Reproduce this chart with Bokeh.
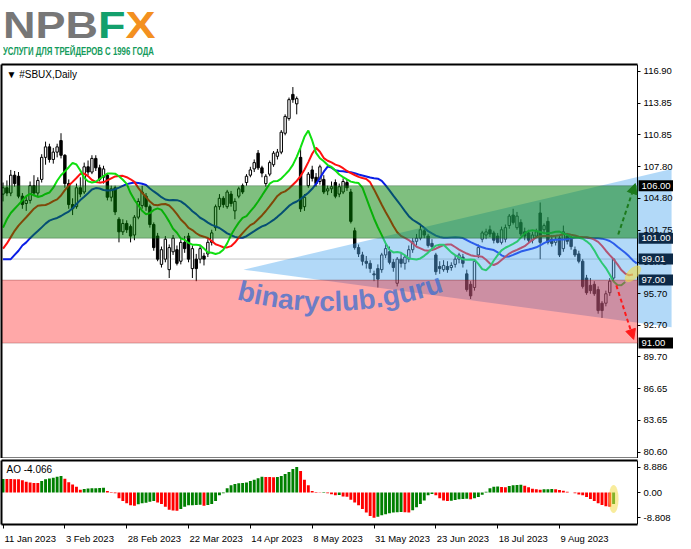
import math

from bokeh.core.properties import value
from bokeh.embed import file_html
from bokeh.layouts import column
from bokeh.models import (Arrow, BoxAnnotation, ColumnDataSource, Div, FixedTicker,
                          Label, NormalHead, NumeralTickFormatter, Range1d)
from bokeh.plotting import figure
from bokeh.resources import INLINE

# ---- data (SBUX daily, 11 Jan 2023 - 29 Aug 2023) ----
opens = [
    105.2, 105.8, 105.3, 107.0, 106.9, 105.0, 104.3, 104.6, 106.0, 105.3,
    106.6, 108.7, 109.7, 108.5, 109.2, 110.3, 108.9, 106.2, 104.2, 104.0,
    105.8, 105.4, 107.8, 107.3, 108.6, 107.7, 106.8, 107.0, 104.9, 105.8,
    102.8, 101.6, 102.4, 102.1, 101.3, 103.0, 104.1, 105.0, 104.0, 102.3,
    101.2, 98.5, 99.0, 98.0, 99.7, 99.9, 98.8, 100.6, 101.2, 98.1,
    99.0, 99.0, 99.3, 99.5, 100.6, 102.0, 104.0, 104.8, 104.0, 105.2,
    103.6, 105.0, 106.0, 106.3, 107.0, 107.6, 109.1, 107.7, 106.2, 107.1,
    108.0, 108.8, 109.2, 111.0, 112.4, 114.7, 113.8, 108.7, 104.0, 106.0,
    107.5, 106.8, 106.4, 106.6, 105.5, 105.7, 106.3, 105.2, 105.4, 106.3,
    105.4, 101.7, 100.1, 99.4, 98.8, 98.6, 97.6, 98.1, 98.0, 99.4,
    99.7, 98.7, 96.7, 99.0, 98.6, 99.0, 99.9, 100.7, 101.0, 101.7,
    101.2, 100.5, 99.4, 98.3, 98.0, 98.3, 98.2, 98.5, 99.0, 99.2,
    97.6, 96.6, 96.3, 99.4, 100.9, 101.3, 101.8, 101.5, 101.2, 100.6,
    100.9, 102.2, 103.2, 102.0, 102.5, 101.6, 101.5, 100.8, 101.2, 103.4,
    101.8, 102.6, 100.9, 100.6, 101.0, 100.0, 101.2, 100.9, 99.9, 99.5,
    98.8, 97.2, 96.5, 96.6, 96.1, 94.8, 94.8, 95.8, 97.2,
]
highs = [
    106.3, 106.5, 107.5, 107.4, 107.3, 105.3, 105.0, 106.4, 107.0, 106.8,
    109.0, 110.2, 110.0, 109.6, 110.0, 111.0, 109.0, 106.6, 104.8, 106.2,
    106.8, 108.2, 108.4, 108.9, 108.9, 108.0, 107.9, 107.2, 106.0, 106.0,
    103.0, 102.8, 102.7, 102.3, 103.2, 104.8, 106.0, 105.3, 104.2, 102.5,
    101.5, 100.2, 101.2, 100.4, 101.3, 100.3, 100.9, 101.2, 101.5, 100.3,
    99.5, 100.3, 99.6, 100.9, 101.8, 104.2, 105.2, 105.0, 105.6, 105.5,
    104.8, 105.9, 106.2, 107.1, 107.8, 108.5, 109.4, 107.9, 107.1, 108.4,
    109.3, 109.5, 111.3, 112.8, 114.4, 115.4, 114.5, 109.6, 105.2, 107.3,
    107.9, 107.2, 108.0, 107.0, 106.0, 106.4, 106.6, 106.2, 106.7, 106.6,
    105.7, 102.0, 100.4, 99.7, 99.3, 98.9, 97.9, 98.5, 99.6, 100.5,
    100.2, 99.0, 99.2, 99.6, 99.4, 100.3, 101.0, 101.4, 102.2, 101.9,
    101.4, 100.9, 99.6, 98.8, 98.9, 98.8, 98.7, 99.3, 99.6, 99.5,
    98.0, 96.9, 99.0, 100.4, 101.7, 101.9, 102.2, 101.7, 101.5, 102.1,
    102.3, 103.3, 103.8, 103.5, 102.8, 102.0, 101.8, 101.6, 101.9, 104.4,
    102.4, 103.0, 101.3, 101.2, 101.3, 102.2, 101.5, 101.2, 100.2, 99.8,
    99.0, 97.5, 97.2, 96.9, 96.4, 95.0, 96.0, 97.2, 99.1,
]
lows = [
    104.5, 105.0, 105.0, 105.9, 104.8, 103.8, 103.6, 104.3, 105.0, 105.0,
    106.3, 108.0, 108.2, 108.1, 108.7, 108.6, 105.8, 103.8, 103.2, 103.8,
    104.9, 105.2, 107.0, 107.1, 107.4, 106.4, 106.2, 104.6, 104.5, 103.2,
    100.6, 101.3, 101.5, 100.6, 100.8, 102.8, 103.8, 103.6, 102.0, 99.8,
    98.8, 98.2, 98.7, 97.2, 99.4, 98.4, 98.5, 99.6, 98.7, 97.2,
    96.9, 98.6, 98.4, 99.2, 100.3, 101.7, 103.7, 103.9, 103.8, 104.0,
    102.8, 104.8, 105.2, 106.0, 106.8, 107.3, 107.5, 106.8, 105.9, 106.9,
    107.8, 108.5, 109.0, 110.8, 112.2, 113.9, 112.8, 103.5, 103.6, 105.8,
    106.4, 105.9, 106.1, 105.2, 105.1, 105.3, 104.8, 104.9, 105.2, 105.5,
    102.4, 99.9, 99.2, 98.4, 98.1, 97.7, 96.9, 96.3, 97.7, 99.1,
    98.5, 97.8, 96.4, 98.2, 98.0, 98.7, 99.6, 100.3, 100.8, 101.0,
    100.1, 99.8, 97.5, 97.6, 97.8, 97.7, 97.9, 98.2, 98.6, 98.2,
    95.9, 95.2, 96.0, 99.1, 100.6, 100.9, 101.1, 100.5, 100.5, 100.4,
    100.6, 101.9, 102.3, 101.8, 101.2, 100.8, 100.6, 100.5, 101.0, 99.0,
    101.5, 100.4, 100.2, 100.3, 99.2, 99.7, 100.4, 99.9, 99.2, 98.6,
    96.2, 95.6, 95.7, 95.5, 93.8, 93.4, 94.5, 95.5, 97.0,
]
closes = [
    105.8, 105.3, 107.0, 106.2, 105.0, 104.2, 104.6, 106.0, 105.3, 106.5,
    108.7, 109.7, 108.5, 109.2, 109.7, 108.9, 106.2, 104.2, 103.8, 105.8,
    105.2, 107.8, 107.3, 108.6, 107.7, 106.6, 107.6, 104.9, 105.7, 103.5,
    101.6, 102.4, 101.8, 101.2, 103.0, 104.5, 105.4, 104.0, 102.3, 100.1,
    99.0, 99.9, 100.9, 100.1, 101.0, 98.6, 100.6, 100.0, 99.0, 100.0,
    98.1, 100.0, 99.0, 100.6, 101.5, 104.0, 104.8, 104.2, 105.4, 104.3,
    104.5, 105.7, 105.4, 106.9, 107.5, 108.2, 107.7, 107.2, 106.9, 108.2,
    109.1, 109.2, 111.1, 112.6, 114.2, 114.2, 114.3, 103.8, 104.9, 107.1,
    106.7, 106.2, 107.8, 105.4, 105.7, 105.9, 105.0, 105.9, 106.4, 105.8,
    102.6, 100.1, 99.5, 98.8, 98.6, 98.1, 97.5, 97.1, 99.4, 100.0,
    98.7, 98.2, 99.0, 98.6, 99.2, 99.9, 100.7, 101.0, 101.8, 101.3,
    100.3, 100.2, 97.8, 98.1, 98.4, 98.0, 98.4, 99.0, 99.4, 98.6,
    96.1, 95.5, 98.8, 100.1, 101.5, 101.6, 101.4, 100.8, 100.6, 101.8,
    102.0, 103.1, 102.5, 103.1, 101.4, 101.2, 100.8, 101.3, 101.6, 100.6,
    102.2, 100.6, 100.5, 100.9, 99.4, 101.6, 100.7, 100.2, 99.4, 98.8,
    96.4, 95.8, 96.0, 95.7, 94.1, 94.1, 95.7, 96.9, 99.01,
]

# Awesome Oscillator histogram
ao_values = [
    4.7, 4.7, 4.7, 4.6, 4.6, 4.3, 3.8, 3.5, 3.3, 3.3,
    4.0, 4.6, 4.9, 5.2, 5.5, 5.8, 4.8, 3.6, 2.8, 2.0,
    1.0, 1.2, 1.4, 1.45, 1.5, 1.55, 1.7, 0.5, 0.2, -0.3,
    -2.0, -3.0, -3.8, -4.5, -4.6, -4.1, -3.8, -3.6, -3.2, -3.0,
    -3.5, -4.0, -5.0, -6.0, -6.3, -6.35, -5.8, -5.0, -4.5, -4.45,
    -4.4, -4.3, -4.6, -4.4, -4.0, -3.0, -1.0, -0.3, 1.5, 2.5,
    3.0, 3.2, 3.3, 3.5, 4.0, 4.5, 5.0, 5.5, 5.45, 5.4,
    5.35, 5.45, 5.8, 6.5, 7.2, 8.2, 8.886, 7.5, 4.5, 2.5,
    0.5, 0.2, 0.1, 0.2, -0.3, -0.6, -1.0, -0.9, -1.4, -1.5,
    -2.5, -3.5, -4.5, -5.8, -7.0, -8.2, -8.808, -8.5, -8.0, -7.6,
    -7.3, -7.0, -6.9, -6.8, -6.9, -7.0, -6.2, -5.2, -4.0, -2.8,
    -1.0, -0.5, -1.0, -2.0, -2.8, -3.0, -2.9, -2.6, -2.4, -2.3,
    -2.2, -2.4, -2.0, -1.6, -0.8, 0.3, 1.5, 2.0, 2.1, 1.9,
    1.8, 2.3, 2.5, 2.6, 2.7, 2.4, 1.8, 1.3, 1.1, 1.0,
    1.1, 1.15, 1.2, 1.1, 0.9, 0.6, 0.3, 0.0, -0.3, -0.7,
    -1.0, -1.6, -2.3, -3.0, -3.8, -4.4, -4.8, -5.0, -4.066,
]

# Alligator values already on the chart at its left edge (before the window's own bars feed in)
jaw_lead = [99.0, 99.0, 99.0, 99.4, 99.8, 100.3, 100.6, 101.0]   # SMMA 13, shift 8
teeth_lead = [100.0, 100.5, 101.1, 101.7, 102.2]                 # SMMA 8, shift 5
lips_lead = [102.0, 102.8, 103.4]                                # SMMA 5, shift 3

date_ticks = [0, 16, 32, 48, 64, 80, 96, 112, 128, 144]
date_labels = ["11 Jan 2023", "3 Feb 2023", "28 Feb 2023", "22 Mar 2023", "14 Apr 2023",
               "8 May 2023", "31 May 2023", "23 Jun 2023", "18 Jul 2023", "9 Aug 2023"]
price_ticks = [116.90, 113.85, 110.85, 107.80, 104.80, 101.75, 98.70,
               95.70, 92.70, 89.70, 86.65, 83.65, 80.60]
ao_ticks = [8.886, 0.0, -8.808]

buy_zone = (101.0, 106.0)
sell_zone = (91.0, 97.0)
last_price = 99.01
level_marks = [106.00, 101.00, 99.01, 97.00, 91.00]

# analyst drawing: triangle and forecast arrows (bar index, price)
tri_x = [62.2, 173.0, 173.0]
tri_y = [98.0, 107.6, 92.5]
arrow_up = (159.2, 101.35, 163.6, 106.2)
arrow_down = (158.7, 96.5, 163.2, 91.35)

FONT = "Liberation Sans"
N = len(closes)
X0 = -0.4          # left edge of the chart
AX = 164.2         # price scale sits here
XR1 = 173.5        # canvas continues under the price labels
Y0, Y1 = 80.0, 117.55
FRAME_W, FRAME_H = 672, 394
X_RANGE = Range1d(X0, XR1)
bar_px = FRAME_W / (XR1 - X0)


def style_price_axis(ax):
    ax.fixed_location = AX
    ax.minor_tick_line_color = None
    ax.major_tick_in = 0
    ax.major_tick_out = 3
    ax.major_label_standoff = 3
    ax.axis_line_color = "black"
    ax.major_label_text_font = FONT
    ax.major_label_text_font_size = "9.5px"
    ax.major_label_text_color = "black"


def chart_border(fig, ylo, yhi):
    fig.multi_line(xs=[[X0, AX], [X0, AX], [X0, X0]], ys=[[yhi, yhi], [ylo, ylo], [ylo, yhi]],
                   line_color="black", line_width=2, level="overlay")


# ---- main price window ----
p = figure(frame_width=FRAME_W, frame_height=FRAME_H, x_range=X_RANGE, y_range=(Y0, Y1),
           y_axis_location="right", x_axis_location=None, toolbar_location=None,
           output_backend="svg", min_border_left=1, min_border_right=0,
           min_border_top=2, min_border_bottom=0, background_fill_color="white")
p.outline_line_color = None
p.xgrid.visible = False
p.ygrid.visible = False
p.yaxis.ticker = FixedTicker(ticks=price_ticks)
p.yaxis.formatter = NumeralTickFormatter(format="0.00")
style_price_axis(p.yaxis[0])

p.line([X0, AX], [last_price, last_price], line_color="#c4c4c4", line_width=1)

idx = list(range(N))
up = [c >= o for o, c in zip(opens, closes)]
candles = ColumnDataSource(dict(
    x=idx, high=highs, low=lows,
    top=[max(o, c) for o, c in zip(opens, closes)],
    bottom=[min(o, c) for o, c in zip(opens, closes)],
    fill=["white" if u else "black" for u in up],
))
p.segment(x0="x", y0="low", x1="x", y1="high", source=candles, line_color="black", line_width=1)
p.vbar(x="x", top="top", bottom="bottom", width=0.62, source=candles,
       fill_color="fill", line_color="black", line_width=1)

# Alligator from median price
median = [(h + l) / 2 for h, l in zip(highs, lows)]


def smma_line(lead, period):
    vals = list(lead)
    for m in median:
        vals.append((vals[-1] * (period - 1) + m) / period)
    return vals


for lead, period, color in ((jaw_lead, 13, "#0a1ee6"), (teeth_lead, 8, "#ff1010"),
                            (lips_lead, 5, "#10e010")):
    ys = smma_line(lead, period)
    xs = list(range(len(ys)))
    keep = [i for i, x in enumerate(xs) if x <= AX]
    p.line([xs[i] for i in keep], [ys[i] for i in keep], line_color=color, line_width=2)

p.patch(tri_x, tri_y, fill_color="#55aaf0", fill_alpha=0.45, line_color=None)

p.add_layout(BoxAnnotation(left=X0, right=AX, bottom=buy_zone[0], top=buy_zone[1],
                           fill_color="#008000", fill_alpha=0.5,
                           line_color="#163d20", line_width=1))
p.add_layout(BoxAnnotation(left=X0, right=AX, bottom=sell_zone[0], top=sell_zone[1],
                           fill_color="#ff0000", fill_alpha=0.34,
                           line_color="#6a1414", line_width=1))

# watermark text laid on an arc
wm = "binaryclub.guru"
em = {"b": .611, "i": .278, "n": .611, "a": .556, "r": .389, "y": .556, "c": .556,
      "l": .278, "u": .611, ".": .278, "g": .611}
fs = 28
cx, cy, R = 336.0, -53.0, 354.0
theta0 = math.asin((245 - cx) / R)
wx, wy, wa = [], [], []
s = 0.0
for ch in wm:
    w = em[ch] * fs
    th = theta0 + (s + w / 2) / R
    px = cx + R * math.sin(th)
    py = cy + R * math.cos(th)
    wx.append((px - 3) / 3.97)
    wy.append(116.9 - (py - 64) / 10.8)
    wa.append(th)
    s += w
p.text(x=wx, y=wy, text=list(wm), angle=wa, text_font=value(FONT), text_font_style="bold",
       text_font_size=f"{fs}px", text_color="#3c6fd0", text_alpha=0.75,
       text_align="center", text_baseline="alphabetic", level="overlay")

for (x0, y0, x1, y1), col in ((arrow_up, "#1c7a1c"), (arrow_down, "#ff1a1a")):
    p.add_layout(Arrow(end=NormalHead(size=10, fill_color=col, line_color=col),
                       x_start=x0, y_start=y0, x_end=x1, y_end=y1,
                       line_color=col, line_width=2, line_dash="4 3"))

p.ellipse(x=[163.0], y=[97.6], width=20, height=10, angle=0.8,
          width_units="screen", height_units="screen",
          fill_color="#f2dc4a", fill_alpha=0.6, line_color="#f2dc4a", line_alpha=0.4,
          level="overlay")

chart_border(p, Y0, Y1)

# price level boxes on the price scale
box_w = 35
lv_bg = ["black" if lv in (106.0, 91.0) else "#0d2a48" for lv in level_marks]
p.rect(x=[AX + (box_w / 2 + 1) / bar_px] * len(level_marks), y=level_marks,
       width=box_w, height=11, width_units="screen", height_units="screen",
       fill_color=lv_bg, line_color=None, level="overlay")
p.text(x=[AX] * len(level_marks), y=level_marks, text=[f"{lv:.2f}" for lv in level_marks],
       x_offset=4, text_align="left", text_baseline="middle", text_color="white",
       text_font=value(FONT), text_font_size="9.5px", level="overlay")

p.add_layout(Label(x=X0, y=Y1, x_offset=5, y_offset=-4, text="▼ #SBUX,Daily",
                   text_align="left", text_baseline="top", text_font=FONT,
                   text_font_size="10px", text_color="black"))

# ---- AO window ----
AO0, AO1 = -11.2, 11.2
q = figure(frame_width=FRAME_W, frame_height=64, x_range=X_RANGE, y_range=(AO0, AO1),
           y_axis_location="right", toolbar_location=None, output_backend="svg",
           min_border_left=1, min_border_right=0, min_border_top=2, min_border_bottom=0)
q.outline_line_color = None
q.xgrid.visible = False
q.ygrid.visible = False
q.yaxis.ticker = FixedTicker(ticks=ao_ticks)
q.yaxis.major_label_overrides = {8.886: "8.886", 0.0: "0.00", -8.808: "-8.808"}
style_price_axis(q.yaxis[0])

# date labels start at their tick (MT4 style): centre each label half its width to the right
char_em = {" ": .278, "J": .5, "F": .611, "M": .833, "A": .667, "a": .556, "n": .556,
           "e": .556, "b": .556, "r": .333, "p": .556, "y": .5, "u": .556, "l": .222, "g": .556}
label_pos = []
for t, lab in zip(date_ticks, date_labels):
    width_px = sum(char_em.get(c, .556) for c in lab) * 9.5
    label_pos.append(round(t + (width_px / 2 + 1) / bar_px, 2))
q.xaxis.ticker = FixedTicker(ticks=label_pos, minor_ticks=date_ticks)
q.xaxis.major_label_overrides = dict(zip(label_pos, date_labels))
q.xaxis.axis_line_color = None
q.xaxis.major_tick_line_color = None
q.xaxis.minor_tick_in = 0
q.xaxis.minor_tick_out = 4
q.xaxis.minor_tick_line_color = "black"
q.xaxis.major_label_standoff = 2
q.xaxis.major_label_text_font = FONT
q.xaxis.major_label_text_font_size = "9.5px"
q.xaxis.major_label_text_color = "black"

ao_colors = ["#008000" if i == 0 or ao_values[i] > ao_values[i - 1] else "#ff0000"
             for i in range(len(ao_values))]
q.vbar(x=list(range(len(ao_values))), top=ao_values, bottom=0, width=0.75,
       fill_color=ao_colors, line_color=None)
q.ellipse(x=[N - 1], y=[-2.3], width=10, height=28, width_units="screen",
          height_units="screen", fill_color="#f2dc4a", fill_alpha=0.55, line_color=None)
chart_border(q, AO0, AO1)
q.add_layout(Label(x=X0, y=AO1, x_offset=5, y_offset=-3,
                   text=f"AO {ao_values[-1]:.3f}", text_align="left", text_baseline="top",
                   text_font=FONT, text_font_size="10px", text_color="black"))

# ---- logo header ----
header = Div(width=673, height=52, text=(
    '<div style="position:relative;width:673px;height:52px;font-family:\'Liberation Sans\',Arial;">'
    '<div style="position:absolute;left:-2px;top:0px;font-size:36px;line-height:41px;'
    'font-weight:bold;white-space:nowrap;transform:scaleX(1.25);transform-origin:left top;">'
    '<span style="color:#777777">NPB</span><span style="color:#13a06c">F</span>'
    '<span style="color:#f39020">X</span></div>'
    '<div style="position:absolute;left:-2px;top:41px;font-size:10px;line-height:11px;'
    'font-weight:bold;color:#149b5c;white-space:nowrap;transform:scaleX(0.78);'
    'transform-origin:left top;">УСЛУГИ ДЛЯ ТРЕЙДЕРОВ С 1996 ГОДА</div></div>'
))

page = column(header, p, q, spacing=0)
open("out.html", "w").write(file_html(page, INLINE))
